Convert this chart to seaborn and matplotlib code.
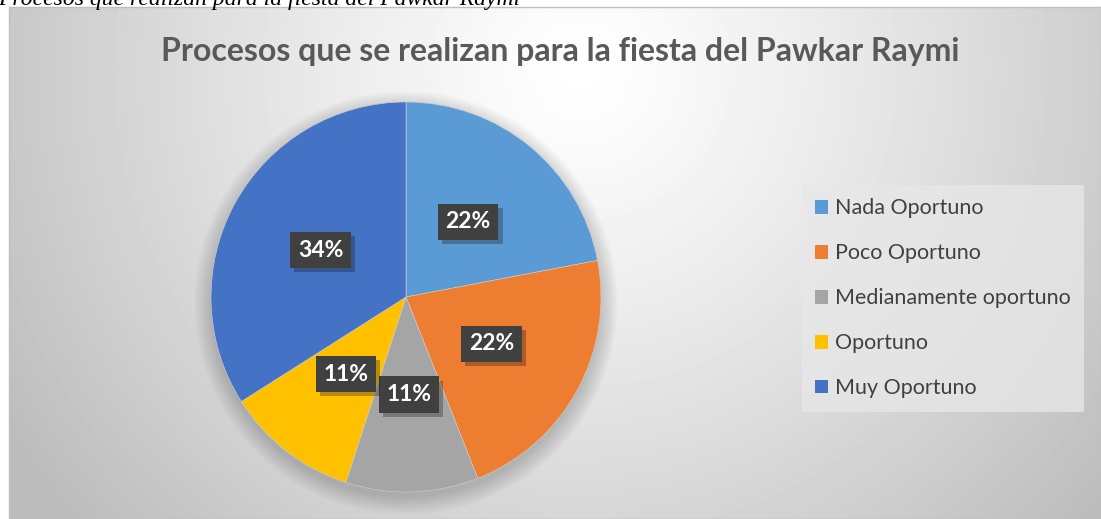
import numpy as np
import matplotlib
matplotlib.use("Agg")
import matplotlib.pyplot as plt
import matplotlib.patheffects as pe
import seaborn as sns

# ---------------- data ----------------
categorias = ["Nada Oportuno", "Poco Oportuno", "Medianamente oportuno",
              "Oportuno", "Muy Oportuno"]
porcentajes = [22, 22, 11, 11, 34]
colores = ["#5B9BD5", "#ED7D31", "#A5A5A5", "#FFC000", "#4472C4"]
titulo = "Procesos que se realizan para la fiesta del Pawkar Raymi"
leyenda_doc = "Procesos que realizan para la fiesta del Pawkar Raymi"

sns.set_theme(style="white")
plt.rcParams["font.family"] = ["Lato", "DejaVu Sans"]

W, H = 1101, 519
fig = plt.figure(figsize=(W / 100, H / 100), dpi=100)
fig.patch.set_facecolor("white")

# chart area with radial gradient background
x0, y0 = 9, 7  # pixels from left / top
bg = fig.add_axes([x0 / W, 0, 1 - x0 / W, 1 - y0 / H])
xx, yy = np.meshgrid(np.arange(x0, W), np.arange(y0, H))
r = np.sqrt(((xx - 580) / 600.0) ** 2 + ((yy - 70) / 600.0) ** 2)
val = np.clip(255 - 58 * r ** 1.2, 188, 255) / 255.0
bg.imshow(val, cmap="gray", vmin=0, vmax=1, aspect="auto",
          extent=[x0, W, H, y0], interpolation="bilinear")
bg.set_xlim(x0, W)
bg.set_ylim(H, y0)
bg.set_xticks([])
bg.set_yticks([])
for s in bg.spines.values():
    s.set_color("#bfbfbf")
    s.set_linewidth(1)

# caption cut at top of page
fig.text(-2 / W, 1 - 5 / H, leyenda_doc, family="Liberation Serif",
         style="italic", fontsize=17, color="black", va="baseline", ha="left")

# title
fig.text(560 / W, 1 - 52 / H, titulo, fontsize=23, fontweight="bold",
         color="#595959", ha="center", va="center")

# pie
cx, cy, rad = 406, 297, 195
ax = fig.add_axes([(cx - rad) / W, (H - cy - rad) / H, 2 * rad / W, 2 * rad / H])
ax.set_facecolor("none")
ax.patch.set_alpha(0)

# soft shadow under the pie
for k in range(8):
    circ = plt.Circle((0, -0.03), 1.0 + 0.012 * k, color="black",
                      alpha=0.022, zorder=0, lw=0, clip_on=False)
    ax.add_patch(circ)

wedges, texts, autotexts = ax.pie(
    porcentajes, colors=colores, startangle=90, counterclock=False,
    autopct=lambda p: f"{p:.0f}%", pctdistance=0.5,
    wedgeprops=dict(linewidth=0.4, edgecolor="#d0d0d0"),
    textprops=dict(color="white", fontsize=16.5, fontweight="bold"))
for w in wedges:
    w.set_zorder(2)
    w.set_clip_on(False)
for t in autotexts:
    t.set_zorder(5)
    t.set_bbox(dict(boxstyle="square,pad=0.33", facecolor="#404040",
                    edgecolor="none"))
    t.get_bbox_patch().set_path_effects(
        [pe.SimplePatchShadow(offset=(3, -3), alpha=0.3), pe.Normal()])
ax.set_xlim(-1, 1)
ax.set_ylim(-1, 1)
ax.set_aspect("equal")
ax.axis("off")

# legend
handles = [plt.Rectangle((0, 0), 1, 1, facecolor=c, edgecolor="none")
           for c in colores]
leg = fig.legend(handles, categorias, loc="upper left",
                 bbox_to_anchor=(802 / W, 1 - 185 / H),
                 frameon=True, fontsize=15.5, labelcolor="#404040",
                 handlelength=0.6, handleheight=0.6, handletextpad=0.3,
                 labelspacing=1.16, borderpad=0.62, fancybox=False,
                 borderaxespad=0)
leg.get_frame().set_facecolor("#e8e8e8")
leg.get_frame().set_alpha(0.75)
leg.get_frame().set_edgecolor("none")

fig.savefig("out.png", dpi=100)
